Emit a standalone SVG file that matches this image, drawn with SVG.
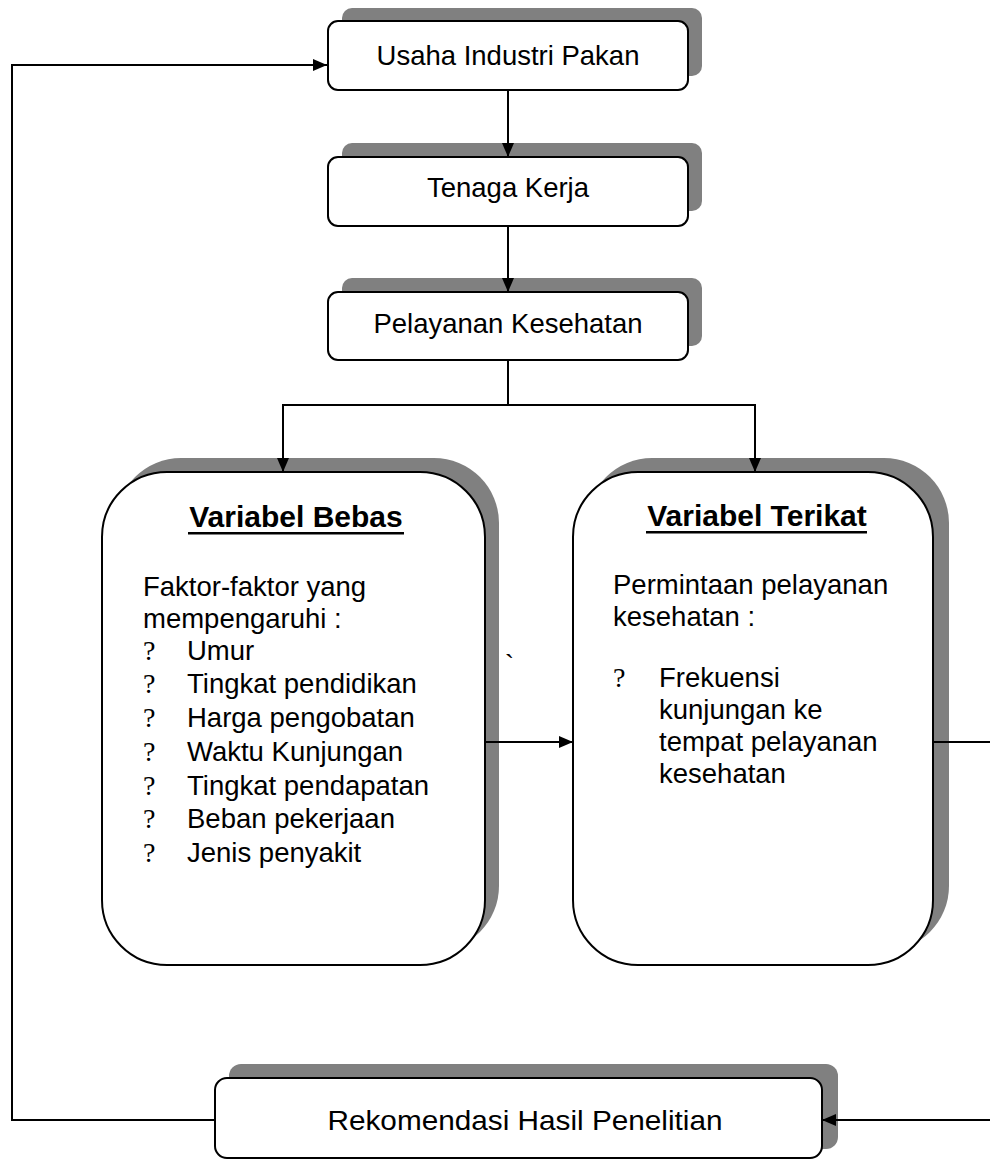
<svg xmlns="http://www.w3.org/2000/svg" width="990" height="1161" viewBox="0 0 990 1161">
<style>
.shadow{fill:#808080;stroke:none}
.box{fill:#ffffff;stroke:#000000;stroke-width:2}
.t{font-family:"Liberation Sans",Arial,sans-serif;font-size:27.5px;fill:#000}
.tb{font-family:"Liberation Sans",Arial,sans-serif;font-size:30px;font-weight:bold;fill:#000}
.q{font-family:"Liberation Serif","Times New Roman",serif;font-size:28px;fill:#000}
.c{fill:none;stroke:#000;stroke-width:2}
</style>
<defs>
<marker id="arr" viewBox="0 0 14 12" refX="14" refY="6" markerWidth="14" markerHeight="12" markerUnits="userSpaceOnUse" orient="auto">
<path d="M0,0 L14,6 L0,12 z" fill="#000"/>
</marker>
</defs>

<g id="node-usaha">
<rect class="shadow" x="342" y="8" width="360" height="68" rx="10"/>
<rect class="box" x="328" y="21" width="360" height="69" rx="10"/>
<text class="t" x="508" y="65" text-anchor="middle" font-size="27">Usaha Industri Pakan</text>
</g>

<g id="node-tenaga">
<rect class="shadow" x="342" y="143" width="360" height="68" rx="10"/>
<rect class="box" x="328" y="157" width="360" height="69" rx="10"/>
<text class="t" x="508" y="197" text-anchor="middle" font-size="27">Tenaga Kerja</text>
</g>

<g id="node-pelayanan">
<rect class="shadow" x="342" y="278" width="360" height="68" rx="10"/>
<rect class="box" x="328" y="292" width="360" height="68" rx="10"/>
<text class="t" x="508" y="333" text-anchor="middle">Pelayanan Kesehatan</text>
</g>

<g id="node-bebas">
<rect class="shadow" x="116" y="458" width="383" height="493" rx="65"/>
<rect class="box" x="102" y="472" width="383" height="493" rx="65"/>
<text class="tb" x="296" y="527" text-anchor="middle">Variabel Bebas</text>
<rect x="188" y="532" width="216" height="2.5" fill="#000"/>
<text class="t" x="143" y="596">Faktor-faktor yang</text>
<text class="t" x="143" y="628">mempengaruhi :</text>
<text class="q" x="143" y="660">?</text><text class="t" x="187" y="660">Umur</text>
<text class="q" x="143" y="693">?</text><text class="t" x="187" y="693">Tingkat pendidikan</text>
<text class="q" x="143" y="727">?</text><text class="t" x="187" y="727">Harga pengobatan</text>
<text class="q" x="143" y="761">?</text><text class="t" x="187" y="761">Waktu Kunjungan</text>
<text class="q" x="143" y="795">?</text><text class="t" x="187" y="795">Tingkat pendapatan</text>
<text class="q" x="143" y="828">?</text><text class="t" x="187" y="828">Beban pekerjaan</text>
<text class="q" x="143" y="862">?</text><text class="t" x="187" y="862">Jenis penyakit</text>
</g>

<text class="t" x="505" y="674">`</text>

<g id="node-terikat">
<rect class="shadow" x="587" y="458" width="362" height="493" rx="65"/>
<rect class="box" x="573" y="472" width="360" height="493" rx="65"/>
<text class="tb" x="757" y="526" text-anchor="middle">Variabel Terikat</text>
<rect x="646" y="531" width="221" height="2.5" fill="#000"/>
<text class="t" x="613" y="594">Permintaan pelayanan</text>
<text class="t" x="613" y="626">kesehatan :</text>
<text class="q" x="613" y="687">?</text><text class="t" x="659" y="687">Frekuensi</text>
<text class="t" x="659" y="719">kunjungan ke</text>
<text class="t" x="659" y="751">tempat pelayanan</text>
<text class="t" x="659" y="783">kesehatan</text>
</g>

<g id="node-rekomendasi">
<rect class="shadow" x="229" y="1064" width="609" height="85" rx="12"/>
<rect class="box" x="215" y="1078" width="607" height="80" rx="12"/>
<text class="t" x="525" y="1130" text-anchor="middle" font-size="28" textLength="395" lengthAdjust="spacingAndGlyphs">Rekomendasi Hasil Penelitian</text>
</g>

<g id="connectors">
<path class="c" d="M215,1120 H12 V65 H327" marker-end="url(#arr)"/>
<path class="c" d="M508,90 V157" marker-end="url(#arr)"/>
<path class="c" d="M508,226 V292" marker-end="url(#arr)"/>
<path class="c" d="M508,360 V405"/>
<path class="c" d="M508,405 H283 V472" marker-end="url(#arr)"/>
<path class="c" d="M508,405 H755 V472" marker-end="url(#arr)"/>
<path class="c" d="M485,742 H573" marker-end="url(#arr)"/>
<path class="c" d="M933,742 H990"/>
<path class="c" d="M990,1120 H822" marker-end="url(#arr)"/>
</g>
</svg>
